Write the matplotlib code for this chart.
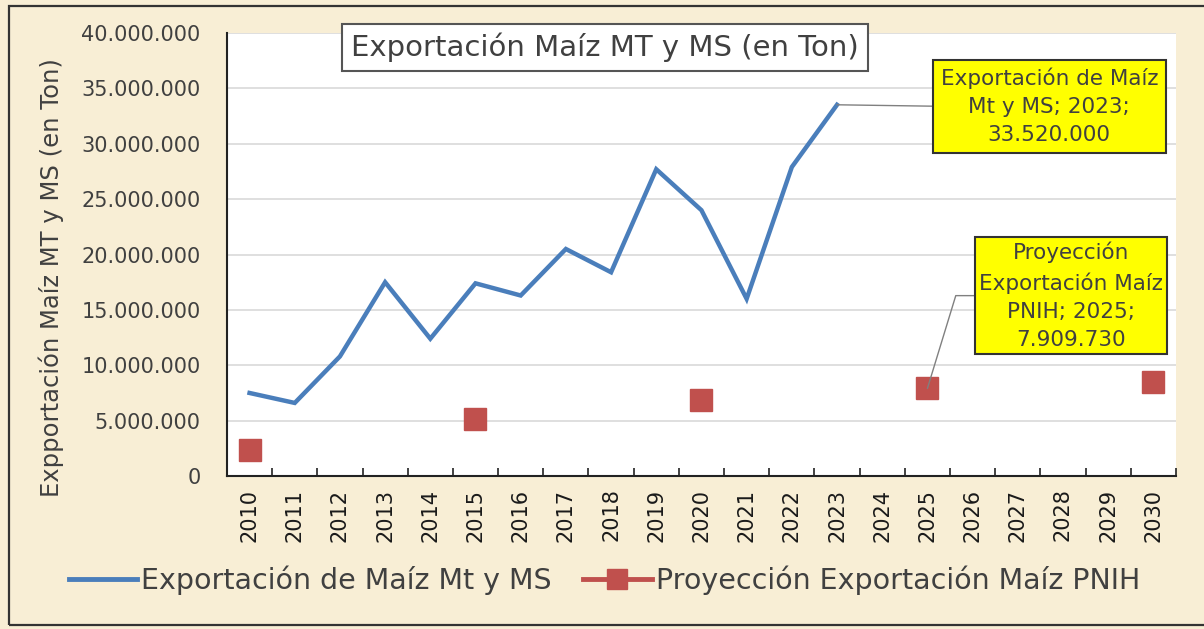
import numpy as np
import matplotlib.pyplot as plt
from matplotlib.patches import Rectangle
from matplotlib.lines import Line2D

plt.rcParams['font.family'] = ['DejaVu Sans']

# categories on the x axis
years = ['2010', '2011', '2012', '2013', '2014', '2015', '2016', '2017', '2018',
         '2019', '2020', '2021', '2022', '2023', '2024', '2025', '2026', '2027',
         '2028', '2029', '2030']

# exports (ton), 2010-2023
export_years = ['2010', '2011', '2012', '2013', '2014', '2015', '2016', '2017',
                '2018', '2019', '2020', '2021', '2022', '2023']
export_vals = [7500000, 6600000, 10800000, 17500000, 12400000, 17400000, 16300000,
               20500000, 18400000, 27700000, 24000000, 16000000, 27900000, 33520000]

# PNIH projection (ton)
proj_years = ['2010', '2015', '2020', '2025', '2030']
proj_vals = [2350000, 5150000, 6900000, 7909730, 8500000]

grey_txt = '#404040'
blue = '#4a7ebb'
red = '#c0504d'


def fmt_thousands(v, pos=None):
    return '{:,.0f}'.format(v).replace(',', '.')


fig = plt.figure(figsize=(12.04, 6.29), dpi=100)
fig.patch.set_facecolor('#f8eed5')

ax = fig.add_axes([0.1885, 0.2432, 0.7882, 0.7043])
ax.set_facecolor('white')

xe = [years.index(y) for y in export_years]
xp = [years.index(y) for y in proj_years]

ax.plot(xe, export_vals, color=blue, lw=3.2, solid_joinstyle='miter',
        label='Exportación de Maíz Mt y MS', zorder=3)
ax.plot(xp, proj_vals, ls='none', marker='s', ms=16, color=red,
        markeredgecolor=red, label='Proyección Exportación Maíz PNIH', zorder=3)

ax.set_xlim(-0.5, len(years) - 0.5)
ax.set_ylim(0, 40000000)
ax.set_yticks(np.arange(0, 40000001, 5000000))
ax.yaxis.set_major_formatter(plt.FuncFormatter(fmt_thousands))
ax.grid(axis='y', color='#d9d9d9', lw=1.2, zorder=0)

ax.set_xticks(range(len(years)))
ax.set_xticklabels(years, rotation=90)
ax.set_xticks(np.arange(-0.5, len(years)), minor=True)
ax.tick_params(axis='x', which='major', length=0, pad=9, labelsize=15,
               labelcolor='#1a1a1a')
ax.tick_params(axis='x', which='minor', length=6, direction='in', width=1.2,
               color='#222222')
ax.tick_params(axis='y', length=0, pad=19, labelsize=15, labelcolor=grey_txt)

for s in ['top', 'right']:
    ax.spines[s].set_visible(False)
ax.spines['left'].set_color('#222222')
ax.spines['bottom'].set_color('#222222')
ax.spines['left'].set_linewidth(1.5)
ax.spines['bottom'].set_linewidth(1.5)

ax.set_ylabel('Expportación Maíz MT y MS (en Ton)', fontsize=17.5,
              color=grey_txt)
ax.yaxis.set_label_coords(-0.172, 0.447)

# title box
fig.text(0.5025, 0.925, 'Exportación Maíz MT y MS (en Ton)', ha='center',
         va='center', fontsize=21, color=grey_txt,
         bbox=dict(boxstyle='square,pad=0.3', fc='white', ec='#555555', lw=1.5))

# data labels
i23 = export_years.index('2023')
ax.annotate('Exportación de Maíz\nMt y MS; 2023;\n33.520.000',
            xy=(years.index('2023'), export_vals[i23]), xycoords='data',
            xytext=(0.8715, 0.831), textcoords='figure fraction',
            ha='center', va='center', fontsize=15.5, color=grey_txt,
            linespacing=1.5,
            bbox=dict(boxstyle='square,pad=0.35', fc='#ffff00', ec='#333333', lw=1.5),
            arrowprops=dict(arrowstyle='-', color='#808080', lw=1,
                            shrinkA=0, shrinkB=0, relpos=(0, 0.5)))

i25 = proj_years.index('2025')
ax.annotate('Proyección\nExportación Maíz\nPNIH; 2025;\n7.909.730',
            xy=(years.index('2025'), proj_vals[i25]), xycoords='data',
            xytext=(0.8895, 0.530), textcoords='figure fraction',
            ha='center', va='center', fontsize=15.5, color=grey_txt,
            linespacing=1.5,
            bbox=dict(boxstyle='square,pad=0.2', fc='#ffff00', ec='#333333', lw=1.5),
            arrowprops=dict(arrowstyle='-', color='#808080', lw=1,
                            shrinkA=0, shrinkB=0, relpos=(0, 0.5),
                            connectionstyle='angle,angleA=0,angleB=73,rad=0'))

# legend
handles = [Line2D([], [], color=blue, lw=3.5),
           Line2D([], [], color=red, lw=3.5, marker='s', ms=14)]
fig.legend(handles, ['Exportación de Maíz Mt y MS', 'Proyección Exportación Maíz PNIH'],
           loc='center', bbox_to_anchor=(0.502, 0.078), ncol=2, frameon=False,
           fontsize=20.5, labelcolor=grey_txt, handlelength=2.4, handletextpad=0.15,
           columnspacing=1.1)

# outer frame of the chart
fig.add_artist(Rectangle((0.0075, 0.006), 1.2, 0.985, transform=fig.transFigure,
                         fill=False, ec='#333333', lw=1.6))

fig.savefig('out.png', dpi=100, facecolor=fig.get_facecolor())
